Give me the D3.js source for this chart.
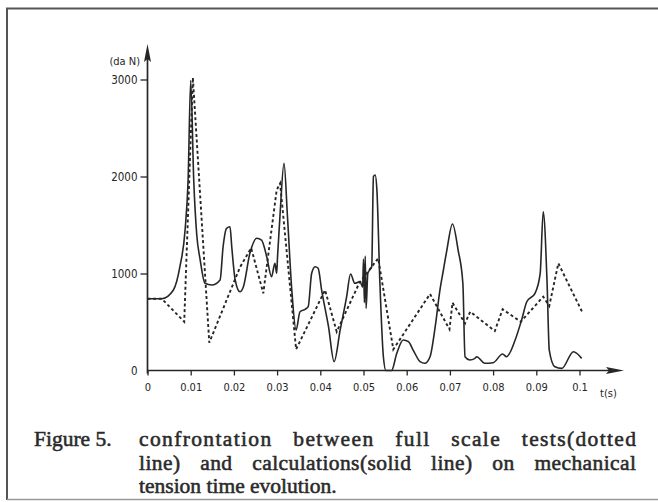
<!DOCTYPE html>
<html><head><meta charset="utf-8">
<script src="https://cdn.jsdelivr.net/npm/d3@7"></script>
<style>body{margin:0;background:#fff}svg{display:block}</style>
</head><body><svg id="c" width="658" height="502"></svg>
<script>
// ---- data ----
const xTicks = [0,0.01,0.02,0.03,0.04,0.05,0.06,0.07,0.08,0.09,0.1];
const xTickLabels = ["0","0.01","0.02","0.03","0.04","0.05","0.06","0.07","0.08","0.09","0.1"];
const yTicks = [0,1000,2000,3000];
const yTickLabels = ["0","1000","2000","3000"];
const yUnit = "(da N)";
const xUnit = "t(s)";
// tests (dotted line): [t, daN]
const testT = [0,0.0033,0.0085,0.0105,0.0143,0.0214,0.0240,0.0268,0.0299,0.0307,0.0344,0.0411,0.0438,0.0490,0.0500,0.0534,0.0569,0.0654,0.0699,0.0706,0.0735,0.0747,0.0804,0.0822,0.0864,0.0916,0.0930,0.0951,0.1007];
const testV = [740,740,503,3020,287,1064,1263,796,1860,1930,218,830,400,900,960,1157,218,789,425,699,486,606,407,631,503,761,665,1105,596];
// calculations (solid line): [t, daN]
const calcT = [0,0.0033,0.0060,0.0075,0.0087,0.0094,0.0100,0.0107,0.0114,0.0122,0.0133,0.0149,0.0168,0.0175,0.0183,0.0191,0.0195,0.0203,0.0214,0.0222,0.0237,0.0253,0.0264,0.0276,0.0287,0.0295,0.0299,0.0301,0.0307,0.0316,0.0324,0.0334,0.0344,0.0353,0.0365,0.0372,0.0380,0.0388,0.0395,0.0403,0.0419,0.0432,0.0446,0.0461,0.0470,0.0480,0.0492,0.0498,0.0500,0.0502,0.0504,0.0506,0.0510,0.0519,0.0523,0.0527,0.0531,0.0538,0.0546,0.0552,0.0565,0.0577,0.0592,0.0604,0.0615,0.0631,0.0642,0.0654,0.0666,0.0677,0.0685,0.0693,0.0706,0.0719,0.0730,0.0735,0.0746,0.0758,0.0762,0.0781,0.0800,0.0822,0.0831,0.0851,0.0866,0.0878,0.0897,0.0909,0.0916,0.0925,0.0930,0.0943,0.0959,0.0986,0.1005];
const calcV = [740,740,830,1070,1448,1964,2990,1964,1400,1139,899,881,933,1276,1466,1482,1276,933,812,864,1208,1363,1345,1173,967,1105,1002,1173,1620,2136,1586,830,418,606,631,658,1002,1070,1054,830,452,91,418,761,995,899,916,860,1150,700,1180,640,1002,1070,1998,2015,1861,899,142,0,0,177,314,297,211,91,74,142,452,830,1036,1242,1510,1242,899,142,108,125,142,74,80,170,142,314,521,709,796,1002,1637,899,211,39,22,194,125];
const caption0 = "Figure 5.";
const captionLines = ["confrontation between full scale tests(dotted",
                      "line) and calculations(solid line) on mechanical",
                      "tension time evolution."];

// ---- chart ----
const svg = d3.select("#c");
const ink = "#262626";
const x = d3.scaleLinear().domain([0,0.1]).range([147.5,579.5]);
const y = d3.scaleLinear().domain([0,3000]).range([370.5,79.5]);

// frame
svg.append("path").attr("d","M7,500 L7,8.5 L658,8.5")
  .attr("fill","none").attr("stroke","#555").attr("stroke-width",2);
svg.append("path").attr("d","M7,499.5 L658,499.5")
  .attr("fill","none").attr("stroke","#999").attr("stroke-width",1.5);

const axFont = "'DejaVu Sans Condensed','DejaVu Sans',sans-serif";
// x axis
const xAxis = d3.axisBottom(x).tickValues(xTicks).tickFormat((d,i)=>xTickLabels[i]).tickSize(5).tickSizeOuter(0).tickPadding(8);
const gx = svg.append("g").attr("transform",`translate(0,${y(0)})`).call(xAxis);
gx.select(".domain").remove();
gx.selectAll("line").attr("stroke",ink).attr("stroke-width",1.3);
gx.selectAll("text").attr("font-family",axFont).attr("font-size",11).attr("fill",ink);
svg.append("line").attr("x1",x(0)).attr("x2",612).attr("y1",y(0)).attr("y2",y(0)).attr("stroke",ink).attr("stroke-width",1.7);
svg.append("path").attr("d",`M624,${y(0)} L606,${y(0)-3.5} L609,${y(0)} L606,${y(0)+3.5} Z`).attr("fill",ink);

// y axis
const yAxis = d3.axisLeft(y).tickValues(yTicks).tickFormat((d,i)=>yTickLabels[i]).tickSize(7).tickSizeOuter(0).tickPadding(3);
const gy = svg.append("g").attr("transform",`translate(${x(0)},0)`).call(yAxis);
gy.select(".domain").remove();
gy.selectAll("line").attr("stroke",ink).attr("stroke-width",1.3);
gy.selectAll("text").attr("font-family",axFont).attr("font-size",11.5).attr("fill",ink);
gy.selectAll(".tick").filter(d=>d===0).select("line").remove();
svg.append("line").attr("x1",x(0)).attr("x2",x(0)).attr("y1",y(0)+3).attr("y2",58).attr("stroke",ink).attr("stroke-width",1.7);
svg.append("path").attr("d",`M${x(0)},44 L${x(0)-3.5},62 L${x(0)},59 L${x(0)+3.5},62 Z`).attr("fill",ink);

svg.append("text").attr("x",140).attr("y",65).attr("text-anchor","end")
  .attr("font-family",axFont).attr("font-size",11).attr("fill",ink).text(yUnit);
svg.append("text").attr("x",600).attr("y",y(0)+26)
  .attr("font-family",axFont).attr("font-size",11).attr("fill",ink).text(xUnit);

// series
const testData = testT.map((t,i)=>[t,testV[i]]);
const calcData = calcT.map((t,i)=>[t,calcV[i]]);
svg.append("path").datum(testData)
  .attr("d",d3.line().x(d=>x(d[0])).y(d=>y(d[1])))
  .attr("fill","none").attr("stroke",ink).attr("stroke-width",1.9).attr("stroke-dasharray","3,2.6");
svg.append("path").datum(calcData)
  .attr("d",d3.line().curve(d3.curveMonotoneX).x(d=>x(d[0])).y(d=>y(d[1])))
  .attr("fill","none").attr("stroke",ink).attr("stroke-width",1.6);

// caption (serif, justified lines)
const capFont = "'Liberation Serif','Times New Roman',serif";
const fs = 21.5, lineW = 497;
function capText(str, px, py){
  return svg.append("text").attr("x",px).attr("y",py)
    .attr("font-family",capFont).attr("font-size",fs)
    .attr("fill","#2a2a2a").attr("stroke","#2a2a2a").attr("stroke-width",0.55)
    .text(str);
}
capText(caption0, 34, 446);
const capY = [446,470,493];
captionLines.forEach((s,i)=>{
  const t = capText(s, 139, capY[i]);
  if(i<2){
    const w = t.node().getComputedTextLength();
    const n = (s.match(/ /g)||[]).length;
    const extra = lineW - w;
    if(extra>0){
      const ws = Math.min(extra/n, 14);
      const rem = extra - ws*n;
      t.attr("word-spacing",ws);
      if(rem>0) t.attr("letter-spacing", rem/(s.length-1));
    }
  }
});
</script></body></html>
